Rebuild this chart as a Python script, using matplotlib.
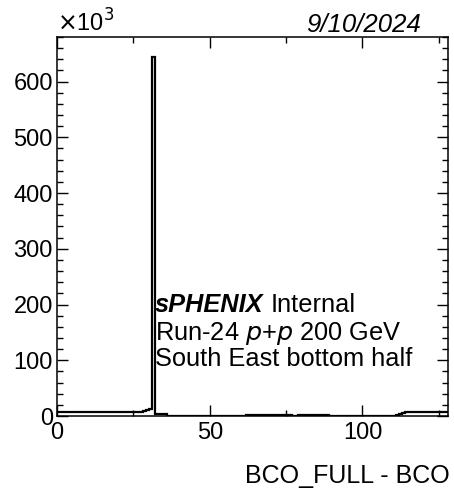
import numpy as np
import matplotlib
matplotlib.use("Agg")
import matplotlib.pyplot as plt
from matplotlib.ticker import MultipleLocator

plt.rcParams['font.family'] = ['Liberation Sans', 'DejaVu Sans']

# Counts per bin (in units of 10^3), bins 0..127 of width 1
left_vals = [7.5, 7.8, 7.2, 7.0, 6.8, 7.1, 7.4, 7.6, 7.3, 7.0, 6.9, 7.2, 7.5, 7.8, 7.4,
             7.1, 6.9, 7.0, 7.3, 7.5, 7.2, 6.8, 7.0, 7.4, 7.6, 7.3, 7.1, 7.9, 8.5,
             11.0, 13.0]
peak_vals = [645.0]
after_vals = [4.0, 4.0, 3.8, 3.5]
gap1_vals = [0.2] * 26
bump1_vals = [1.2, 1.3, 1.1, 1.2, 1.4, 1.2, 1.1, 1.3, 1.2, 1.2, 1.0, 1.3, 1.2, 1.1, 1.2]
dip_vals = [0.5, 0.5]
bump2_vals = [1.2, 1.3, 1.2, 1.1, 1.3, 1.2, 1.4, 1.2, 1.1, 1.2]
gap2_vals = [0.3] * 22
right_vals = [2.0, 3.5, 5.0, 6.5, 7.0, 7.2, 6.9, 7.3, 7.1, 7.0, 7.4, 7.2, 6.9, 7.1, 7.3, 7.0, 8.0]

values = (left_vals + peak_vals + after_vals + gap1_vals + bump1_vals + dip_vals
          + bump2_vals + gap2_vals + right_vals)
edges = np.arange(len(values) + 1)

x_label = "BCO_FULL - BCO"
date_text = "9/10/2024"

W, H = 454, 490
fig = plt.figure(figsize=(W / 100, H / 100), dpi=100)
ax = fig.add_axes([57 / W, (H - 416) / H, (448 - 57) / W, (416 - 37) / H])

ax.stairs(values, edges, color='black', linewidth=1.6, baseline=None)
ax.set_xlim(0, 128)
ax.set_ylim(0, 680)

ax.xaxis.set_major_locator(MultipleLocator(50))
ax.xaxis.set_minor_locator(MultipleLocator(25))
ax.yaxis.set_major_locator(MultipleLocator(100))
ax.yaxis.set_minor_locator(MultipleLocator(20))
ax.tick_params(which='both', direction='in', top=True, right=True, width=1.0)
ax.tick_params(which='major', length=8)
ax.tick_params(which='minor', length=4)
ax.tick_params(axis='x', which='major', labelsize=17, pad=4)
ax.tick_params(axis='y', which='major', labelsize=17, pad=3)
for s in ax.spines.values():
    s.set_linewidth(1.1)

fig.text(450 / W, (H - 483) / H, x_label, fontsize=18, ha='right', va='baseline')

fig.text(57 / W, (H - 32) / H, r"$\times$10$^{3}$", fontsize=17, ha='left', va='baseline')
fig.text(421 / W, (H - 32) / H, date_text, fontsize=18.5, style='italic', ha='right', va='baseline')

fs = 18.3
tx = 155 / W
t1 = fig.text(tx, (H - 311.5) / H, "sPHENIX", fontsize=fs, weight='bold', style='italic', ha='left', va='baseline')
fig.canvas.draw()
bb = t1.get_window_extent(renderer=fig.canvas.get_renderer())
fig.text((bb.x1 + 7) / W, (H - 311.5) / H, "Internal", fontsize=fs, ha='left', va='baseline')
fig.text(tx, (H - 340) / H, r"Run-24 $\it{p}$+$\it{p}$ 200 GeV", fontsize=fs, ha='left', va='baseline')
fig.text(tx, (H - 366.5) / H, "South East bottom half", fontsize=fs, ha='left', va='baseline')

fig.savefig("out.png", dpi=100)
